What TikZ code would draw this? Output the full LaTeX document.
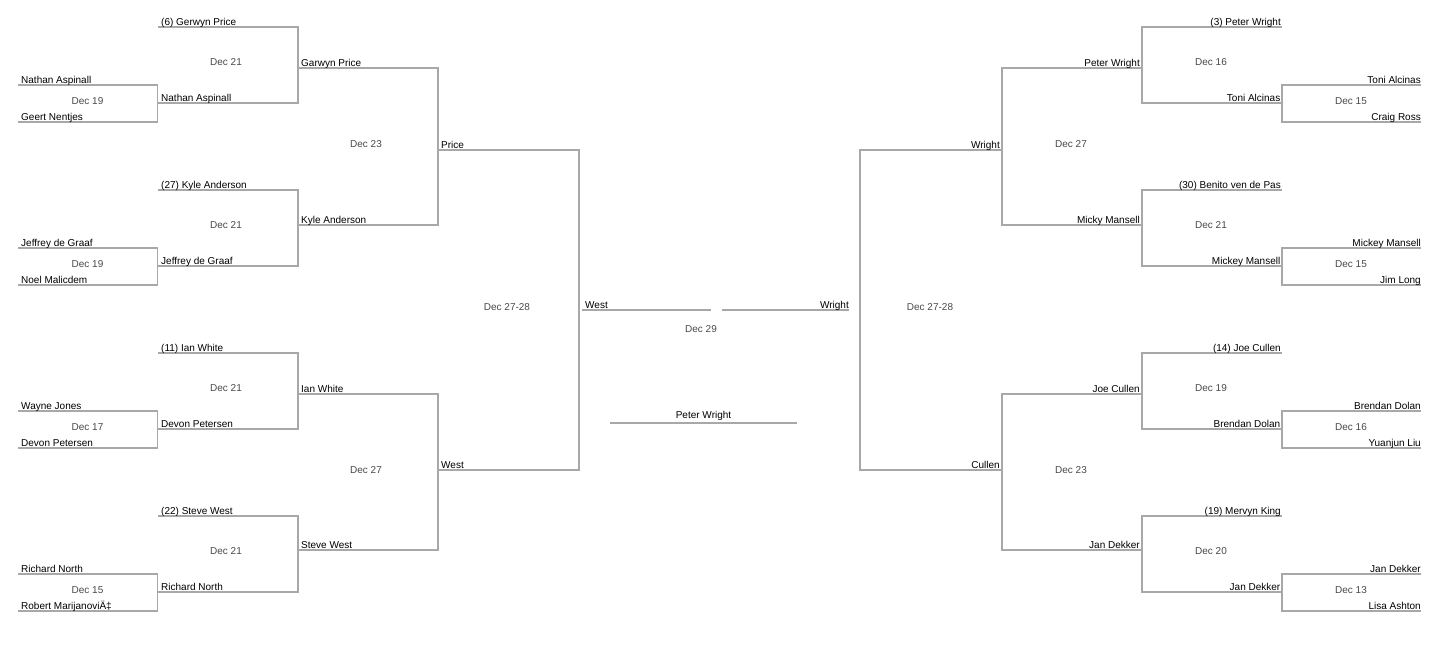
\documentclass[tikz,border=0pt]{standalone}
\usepackage{fontspec}
\setmainfont{Liberation Sans}

\definecolor{linegray}{RGB}{168,168,168}
\definecolor{dategray}{RGB}{72,72,72}

\tikzstyle{bracket} = [draw=linegray, line width=1.3pt]
\tikzstyle{player} = [inner sep=0pt, anchor=base west, font=\fontsize{10}{12}\selectfont]
\tikzstyle{playerr} = [player, anchor=base east]
\tikzstyle{date} = [inner sep=0pt, text=dategray, font=\fontsize{10}{12}\selectfont]

% #1 prefix, #2 top y, #3 seed, #4 #5 first round, #6 its winner, #7 #8 dates
\newcommand{\leftblock}[8]{%
    \draw [bracket] (158,#2) -- (298,#2) -- (298,#2+76) -- (157.5,#2+76);
    \draw [bracket] (18,#2+58) -- (157.5,#2+58) -- (157.5,#2+95) -- (18,#2+95);
    \node (#1seed) [player] at (161,#2-1.5) {#3};
    \node (#1top) [player] at (21,#2+56.5) {#4};
    \node (#1bot) [player] at (21,#2+93.5) {#5};
    \node (#1win) [player] at (161,#2+74.5) {#6};
    \node (#1first) [date] at (87.5,#2+74) {#7};
    \node (#1second) [date] at (226,#2+35) {#8};
}
\newcommand{\rightblock}[8]{%
    \draw [bracket] (1281.5,#2) -- (1142,#2) -- (1142,#2+76) -- (1282,#2+76);
    \draw [bracket] (1421,#2+58) -- (1282,#2+58) -- (1282,#2+95) -- (1421,#2+95);
    \node (#1seed) [playerr] at (1281,#2-1.5) {#3};
    \node (#1top) [playerr] at (1421,#2+56.5) {#4};
    \node (#1bot) [playerr] at (1421,#2+93.5) {#5};
    \node (#1win) [playerr] at (1280.5,#2+74.5) {#6};
    \node (#1first) [date] at (1351,#2+74) {#7};
    \node (#1second) [date] at (1211,#2+35) {#8};
}

\begin{document}
\begin{tikzpicture}[x=1pt, y=-1pt]
    \useasboundingbox (0,0) rectangle (1439,657);

    % left half
    \leftblock{gp}{27}{(6) Gerwyn Price}{Nathan Aspinall}{Geert Nentjes}{Nathan Aspinall}{Dec 19}{Dec 21}
    \leftblock{ka}{190}{(27) Kyle Anderson}{Jeffrey de Graaf}{Noel Malicdem}{Jeffrey de Graaf}{Dec 19}{Dec 21}
    \leftblock{iw}{353}{(11) Ian White}{Wayne Jones}{Devon Petersen}{Devon Petersen}{Dec 17}{Dec 21}
    \leftblock{sw}{516}{(22) Steve West}{Richard North}{Robert MarijanoviÄ‡}{Richard North}{Dec 15}{Dec 21}

    \draw [bracket] (298,68) -- (438,68) -- (438,225) -- (298,225);
    \draw [bracket] (298,394) -- (438,394) -- (438,550) -- (298,550);
    \node (garwyn) [player] at (301,66.5) {Garwyn Price};
    \node (kyle) [player] at (301,223.5) {Kyle Anderson};
    \node (ian) [player] at (301,392.5) {Ian White};
    \node (steve) [player] at (301,548.5) {Steve West};
    \node (dtopleft) [date] at (366,144) {Dec 23};
    \node (dbotleft) [date] at (366,470) {Dec 27};

    \draw [bracket] (438,150) -- (579,150) -- (579,470) -- (438,470);
    \node (price) [player] at (441,148.5) {Price};
    \node (westsemi) [player] at (441,468.5) {West};
    \node (dsemileft) [date] at (507,307) {Dec 27-28};

    % right half
    \rightblock{pw}{27}{(3) Peter Wright}{Toni Alcinas}{Craig Ross}{Toni Alcinas}{Dec 15}{Dec 16}
    \rightblock{bv}{190}{(30) Benito ven de Pas}{Mickey Mansell}{Jim Long}{Mickey Mansell}{Dec 15}{Dec 21}
    \rightblock{jc}{353}{(14) Joe Cullen}{Brendan Dolan}{Yuanjun Liu}{Brendan Dolan}{Dec 16}{Dec 19}
    \rightblock{mk}{516}{(19) Mervyn King}{Jan Dekker}{Lisa Ashton}{Jan Dekker}{Dec 13}{Dec 20}

    \draw [bracket] (1142,68) -- (1002,68) -- (1002,225) -- (1142,225);
    \draw [bracket] (1142,394) -- (1002,394) -- (1002,550) -- (1142,550);
    \node (peter) [playerr] at (1140,66.5) {Peter Wright};
    \node (micky) [playerr] at (1140,223.5) {Micky Mansell};
    \node (joe) [playerr] at (1140,392.5) {Joe Cullen};
    \node (jan) [playerr] at (1140,548.5) {Jan Dekker};
    \node (dtopright) [date] at (1071,144) {Dec 27};
    \node (dbotright) [date] at (1071,470) {Dec 23};

    \draw [bracket] (1002,150) -- (860,150) -- (860,470) -- (1002,470);
    \node (wrightsemi) [playerr] at (1000,148.5) {Wright};
    \node (cullen) [playerr] at (1000,468.5) {Cullen};
    \node (dsemiright) [date] at (930,307) {Dec 27-28};

    % final
    \draw [bracket] (582,310) -- (711,310);
    \draw [bracket] (722,310) -- (849,310);
    \node (west) [player] at (585,308.5) {West};
    \node (wright) [playerr] at (849,308.5) {Wright};
    \node (dfinal) [date] at (701,329) {Dec 29};

    \draw [bracket] (610,423) -- (797,423);
    \node (champion) [player, anchor=base] at (703.5,418) {Peter Wright};

\end{tikzpicture}
\end{document}
